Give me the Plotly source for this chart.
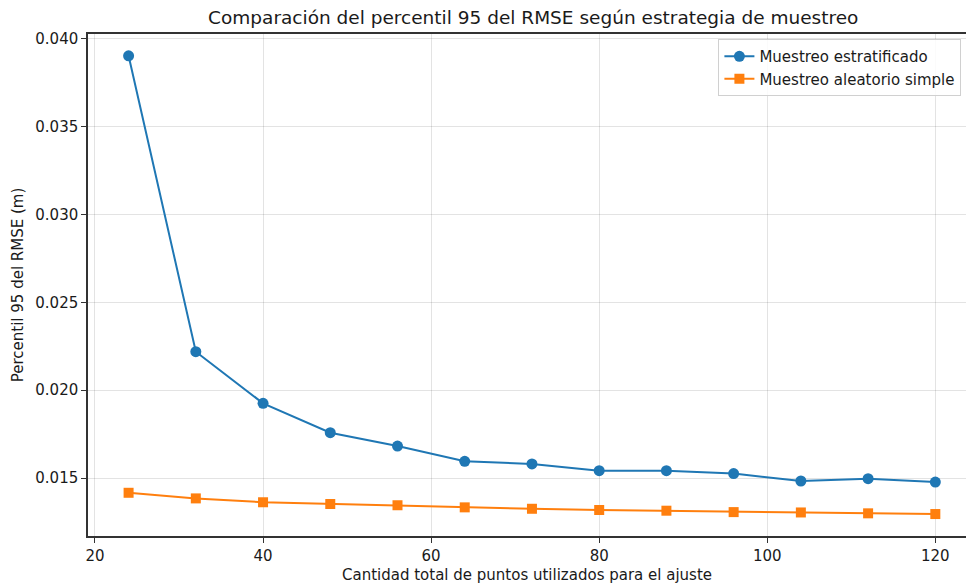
import plotly.graph_objects as go

# Total number of points used for the fit
puntos = [24, 32, 40, 48, 56, 64, 72, 80, 88, 96, 104, 112, 120]

# 95th percentile of RMSE (m) for each sampling strategy
rmse_estratificado = [0.03903, 0.02219, 0.01925, 0.01758, 0.01682, 0.01595, 0.01580,
                      0.01542, 0.01542, 0.01525, 0.01483, 0.01496, 0.01477]
rmse_aleatorio = [0.01416, 0.01384, 0.01362, 0.01352, 0.01345, 0.01333, 0.01325,
                  0.01318, 0.01314, 0.01306, 0.01304, 0.01299, 0.01295]

y_ticks = [0.015, 0.020, 0.025, 0.030, 0.035, 0.040]
x_ticks = [20, 40, 60, 80, 100, 120]

FONT = "DejaVu Sans"
TEXT_COLOR = "#1a1a1a"
AXIS_COLOR = "#333333"
GRID_COLOR = "rgba(0,0,0,0.11)"

fig = go.Figure()
fig.add_trace(go.Scatter(
    x=puntos, y=rmse_estratificado, mode="lines+markers",
    name="Muestreo estratificado",
    line=dict(color="#1f77b4", width=2),
    marker=dict(symbol="circle", size=11, color="#1f77b4"),
))
fig.add_trace(go.Scatter(
    x=puntos, y=rmse_aleatorio, mode="lines+markers",
    name="Muestreo aleatorio simple",
    line=dict(color="#ff7f0e", width=2),
    marker=dict(symbol="square", size=10, color="#ff7f0e"),
))

fig.update_layout(
    width=966, height=587,
    margin=dict(l=88, r=0, t=34, b=51),
    paper_bgcolor="white", plot_bgcolor="white",
    font=dict(family=FONT, size=15, color=TEXT_COLOR),
    title=dict(
        text="Comparación del percentil 95 del RMSE según estrategia de muestreo",
        xref="container", x=0.552, xanchor="center",
        yref="container", y=1 - 18 / 587, yanchor="middle",
        font=dict(family=FONT, size=18.5, color=TEXT_COLOR),
    ),
    legend=dict(
        x=0.718, y=0.99, xanchor="left", yanchor="top",
        bgcolor="rgba(255,255,255,0.85)", bordercolor="#d0d0d0", borderwidth=1,
        font=dict(family=FONT, size=15, color=TEXT_COLOR),
        tracegroupgap=0,
    ),
    showlegend=True,
)

fig.update_xaxes(
    range=[19.17, 123.65],
    tickvals=x_ticks, ticktext=[str(v) for v in x_ticks],
    tickfont=dict(family=FONT, size=15, color=TEXT_COLOR),
    showgrid=True, gridcolor=GRID_COLOR, gridwidth=1,
    showline=True, linecolor=AXIS_COLOR, linewidth=1.5, mirror=True,
    ticks="outside", ticklen=5, tickcolor=AXIS_COLOR,
    zeroline=False,
    title=dict(text="Cantidad total de puntos utilizados para el ajuste",
               font=dict(family=FONT, size=15), standoff=6),
)
fig.update_yaxes(
    range=[0.0117, 0.04027],
    tickvals=y_ticks, ticktext=[f"{v:.3f}" for v in y_ticks],
    tickfont=dict(family=FONT, size=15, color=TEXT_COLOR),
    showgrid=True, gridcolor=GRID_COLOR, gridwidth=1,
    showline=True, linecolor=AXIS_COLOR, linewidth=1.5, mirror=False,
    ticks="outside", ticklen=5, tickcolor=AXIS_COLOR,
    zeroline=False,
    title=dict(text="Percentil 95 del RMSE (m)",
               font=dict(family=FONT, size=15), standoff=8),
)

fig.write_html("out.html")
